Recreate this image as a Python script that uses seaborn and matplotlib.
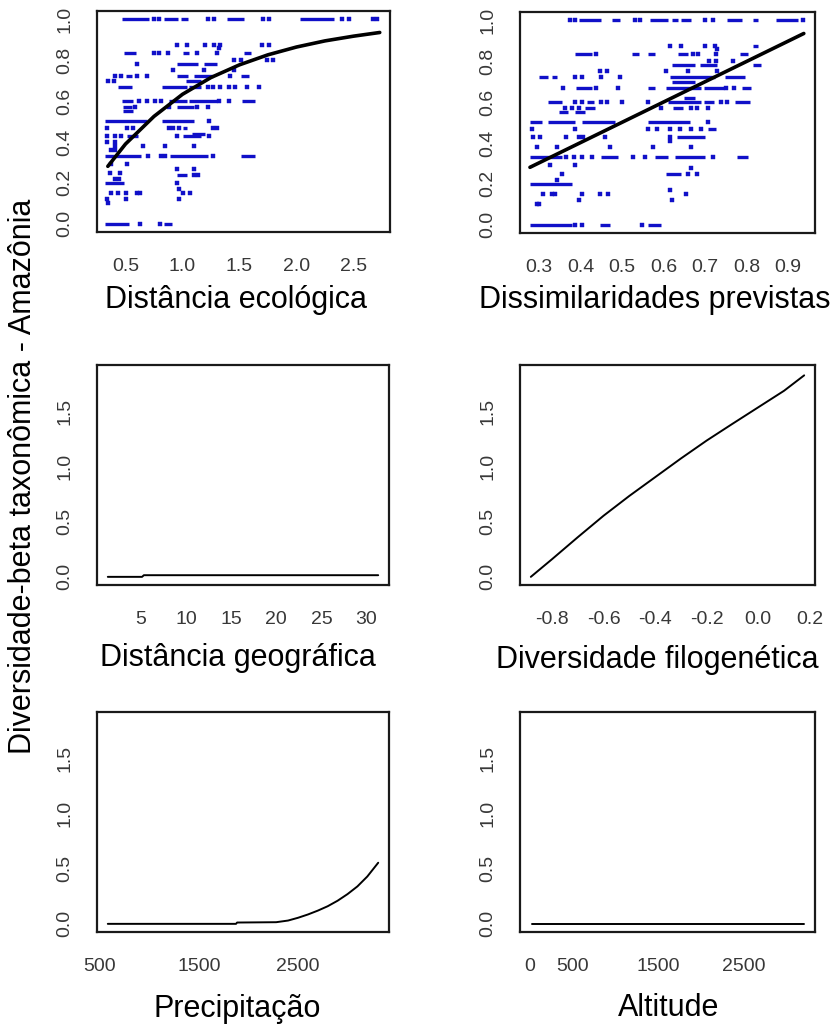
import numpy as np
import pandas as pd
import matplotlib
matplotlib.use("Agg")
import matplotlib.pyplot as plt
import seaborn as sns

# ---------------------------------------------------------------------------
# Observed dissimilarity vs. ecological distance (horizontal runs of points)
# each run: (observed dissimilarity, x start, x end)
eco_runs = [
    (1.0, 0.47, 0.71), (1.0, 0.84, 0.96), (1.0, 0.99, 1.05), (1.0, 1.39, 1.54), (1.0, 2.03, 2.33),
    (0.833, 0.49, 0.59), (0.833, 1.00, 1.06), (0.833, 1.54, 1.60),
    (0.78, 0.95, 1.14), (0.78, 1.19, 1.30),
    (0.72, 0.50, 0.56), (0.72, 0.95, 1.05), (0.72, 1.10, 1.27), (0.72, 1.51, 1.58),
    (0.70, 1.03, 1.16),
    (0.67, 0.43, 0.56), (0.67, 0.82, 1.04), (0.67, 1.06, 1.16),
    (0.60, 0.47, 0.57), (0.60, 0.88, 1.04), (0.60, 1.06, 1.30), (0.60, 1.52, 1.64),
    (0.57, 0.48, 0.56), (0.57, 0.95, 1.10),
    (0.55, 0.48, 0.57),
    (0.50, 0.32, 0.69), (0.50, 0.82, 1.10),
    (0.47, 1.00, 1.04),
    (0.44, 1.08, 1.20),
    (0.43, 0.51, 0.61), (0.43, 1.00, 1.16),
    (0.333, 0.32, 0.64), (0.333, 0.89, 1.22), (0.333, 1.51, 1.64),
    (0.24, 0.95, 1.04),
    (0.20, 0.32, 0.49),
    (0.0, 0.32, 0.53), (0.0, 0.84, 0.91),
]
# isolated points: (ecological distance, observed dissimilarity)
eco_dots = [
    (0.75, 1.0), (0.79, 1.0), (1.22, 1.0), (1.28, 1.0), (1.71, 1.0), (1.76, 1.0),
    (2.40, 1.0), (2.46, 1.0), (2.67, 1.0), (2.71, 1.0),
    (0.95, 0.875), (1.04, 0.875), (1.20, 0.875), (1.28, 0.875), (1.33, 0.875), (1.70, 0.875), (1.76, 0.875),
    (1.32, 0.86),
    (0.75, 0.833), (0.79, 0.833), (0.87, 0.833), (1.13, 0.833), (1.30, 0.833),
    (1.45, 0.80), (1.51, 0.80), (1.74, 0.80), (1.79, 0.80),
    (0.60, 0.78),
    (0.92, 0.75), (1.19, 0.75), (1.45, 0.75),
    (0.41, 0.72), (0.46, 0.72), (0.60, 0.72), (0.69, 0.72), (1.42, 0.72),
    (0.35, 0.70), (0.40, 0.70),
    (1.22, 0.67), (1.27, 0.67), (1.33, 0.67), (1.41, 0.67), (1.46, 0.67), (1.57, 0.67), (1.67, 0.67),
    (0.62, 0.60), (0.69, 0.60), (0.76, 0.60), (0.81, 0.60), (1.32, 0.60), (1.41, 0.60),
    (0.58, 0.57), (0.88, 0.57), (1.13, 0.57), (1.22, 0.57),
    (1.23, 0.50),
    (0.34, 0.47), (0.51, 0.47), (0.57, 0.47), (0.88, 0.47), (0.92, 0.47), (0.97, 0.47), (1.27, 0.47), (1.30, 0.47),
    (0.34, 0.43), (0.41, 0.43), (0.46, 0.43), (0.95, 0.43), (1.23, 0.43),
    (0.34, 0.40), (0.41, 0.40),
    (0.41, 0.38), (0.65, 0.38), (0.85, 0.38), (1.10, 0.38),
    (0.37, 0.36), (0.41, 0.36),
    (0.70, 0.333), (0.81, 0.333), (0.85, 0.333), (1.27, 0.333),
    (0.37, 0.29), (0.51, 0.29),
    (0.95, 0.27), (1.10, 0.27),
    (0.36, 0.25), (0.45, 0.25),
    (1.10, 0.24), (1.14, 0.24),
    (0.41, 0.22), (0.44, 0.22),
    (0.95, 0.20), (0.97, 0.17),
    (0.37, 0.15), (0.43, 0.15), (0.50, 0.15), (0.60, 0.15), (0.63, 0.15), (1.00, 0.15), (1.07, 0.15),
    (0.34, 0.12), (0.50, 0.12), (0.97, 0.12),
    (0.35, 0.10),
    (0.63, 0.0), (0.80, 0.0),
]
# fitted curve
eco_curve_x = [0.345, 0.5, 0.75, 1.0, 1.25, 1.5, 1.75, 2.0, 2.25, 2.5, 2.73]
eco_curve_y = [0.281, 0.39, 0.525, 0.633, 0.715, 0.777, 0.826, 0.864, 0.894, 0.917, 0.935]

# ---------------------------------------------------------------------------
# Observed vs. predicted dissimilarity
pred_runs = [
    (1.0, 0.395, 0.45), (1.0, 0.475, 0.495), (1.0, 0.567, 0.61), (1.0, 0.62, 0.635), (1.0, 0.643, 0.667),
    (1.0, 0.752, 0.788), (1.0, 0.816, 0.828), (1.0, 0.872, 0.925),
    (0.875, 0.816, 0.828),
    (0.833, 0.387, 0.427), (0.833, 0.523, 0.54), (0.833, 0.563, 0.58), (0.833, 0.635, 0.66), (0.833, 0.784, 0.804),
    (0.78, 0.62, 0.675), (0.78, 0.687, 0.73), (0.78, 0.816, 0.836),
    (0.72, 0.30, 0.322), (0.72, 0.33, 0.343), (0.72, 0.615, 0.724), (0.72, 0.748, 0.796),
    (0.70, 0.62, 0.675),
    (0.67, 0.39, 0.427), (0.67, 0.563, 0.58), (0.67, 0.607, 0.69), (0.67, 0.698, 0.746), (0.67, 0.79, 0.81),
    (0.62, 0.65, 0.675),
    (0.60, 0.322, 0.355), (0.60, 0.416, 0.432), (0.60, 0.61, 0.69), (0.60, 0.698, 0.722), (0.60, 0.772, 0.808),
    (0.57, 0.411, 0.435), (0.57, 0.623, 0.647),
    (0.55, 0.347, 0.37), (0.55, 0.387, 0.41),
    (0.50, 0.278, 0.306), (0.50, 0.322, 0.387), (0.50, 0.403, 0.483), (0.50, 0.563, 0.663),
    (0.47, 0.707, 0.727),
    (0.43, 0.632, 0.70),
    (0.333, 0.278, 0.355), (0.333, 0.45, 0.49), (0.333, 0.58, 0.61), (0.333, 0.627, 0.70), (0.333, 0.776, 0.804),
    (0.25, 0.607, 0.643),
    (0.20, 0.278, 0.379),
    (0.0, 0.278, 0.379), (0.0, 0.447, 0.471), (0.0, 0.563, 0.595),
]
pred_dots = [
    (0.375, 1.0), (0.387, 1.0), (0.53, 1.0), (0.543, 1.0), (0.70, 1.0), (0.72, 1.0), (0.935, 1.0),
    (0.615, 0.875), (0.643, 0.875), (0.70, 0.875), (0.725, 0.875),
    (0.73, 0.86),
    (0.437, 0.833), (0.67, 0.833), (0.683, 0.833), (0.727, 0.833),
    (0.71, 0.80), (0.727, 0.80), (0.768, 0.80),
    (0.447, 0.75), (0.463, 0.75), (0.607, 0.75), (0.66, 0.75), (0.73, 0.75),
    (0.387, 0.72), (0.403, 0.72), (0.45, 0.72), (0.495, 0.72),
    (0.357, 0.67), (0.437, 0.67), (0.49, 0.67), (0.75, 0.67), (0.77, 0.67),
    (0.387, 0.60), (0.403, 0.60), (0.45, 0.60), (0.463, 0.60), (0.50, 0.60), (0.563, 0.60), (0.738, 0.60), (0.754, 0.60),
    (0.363, 0.57), (0.379, 0.57), (0.395, 0.57), (0.595, 0.57), (0.667, 0.57), (0.68, 0.57), (0.707, 0.57),
    (0.707, 0.50),
    (0.282, 0.47), (0.387, 0.47), (0.563, 0.47), (0.583, 0.47), (0.615, 0.47), (0.64, 0.47), (0.667, 0.47), (0.69, 0.47),
    (0.286, 0.43), (0.302, 0.43), (0.366, 0.43), (0.395, 0.43), (0.407, 0.43), (0.459, 0.43), (0.615, 0.43),
    (0.615, 0.41),
    (0.294, 0.38), (0.342, 0.38), (0.47, 0.38), (0.575, 0.38), (0.667, 0.38),
    (0.366, 0.333), (0.383, 0.333), (0.403, 0.333), (0.427, 0.333), (0.527, 0.333), (0.555, 0.333), (0.72, 0.333),
    (0.326, 0.29), (0.387, 0.29),
    (0.667, 0.28),
    (0.355, 0.25), (0.66, 0.25), (0.68, 0.25),
    (0.342, 0.22),
    (0.615, 0.17),
    (0.31, 0.15), (0.33, 0.15), (0.338, 0.15), (0.403, 0.15), (0.447, 0.15), (0.467, 0.15), (0.655, 0.15),
    (0.395, 0.12), (0.62, 0.12),
    (0.296, 0.10), (0.30, 0.10),
    (0.387, 0.0), (0.403, 0.0), (0.547, 0.0),
]
pred_curve_x = [0.278, 0.938]
pred_curve_y = [0.281, 0.935]

# ---------------------------------------------------------------------------
# Partial response curves
geo_x = [1.3, 5.1, 5.3, 31.3]
geo_y = [0.0, 0.0, 0.015, 0.015]

phylo_x = [-0.882, -0.8, -0.7, -0.6, -0.5, -0.4, -0.3, -0.2, -0.1, 0.0, 0.1, 0.178]
phylo_y = [0.0, 0.16, 0.36, 0.555, 0.735, 0.905, 1.075, 1.238, 1.39, 1.54, 1.69, 1.83]

precip_x = [580, 1875, 1885, 2280, 2400, 2500, 2600, 2700, 2800, 2900, 3000, 3100, 3200, 3310]
precip_y = [0.0, 0.0, 0.012, 0.015, 0.03, 0.055, 0.085, 0.12, 0.16, 0.21, 0.27, 0.34, 0.43, 0.555]

alt_x = [20, 3200]
alt_y = [0.0, 0.0]

x_titles = ["Distância ecológica", "Dissimilaridades previstas",
            "Distância geográfica", "Diversidade filogenética",
            "Precipitação", "Altitude"]
y_title = "Diversidade-beta taxonômica - Amazônia"

# ---------------------------------------------------------------------------
sns.set_style("white")
plt.rcParams["font.family"] = ["Liberation Sans", "DejaVu Sans"]

W, H = 835, 1028
fig = plt.figure(figsize=(W / 100, H / 100), dpi=100)

def box(left, top, width, height):
    return fig.add_axes([left / W, 1 - (top + height) / H, width / W, height / H])

axes = [
    box(97, 11, 293, 221), box(520, 12, 295, 221),
    box(97, 365, 292, 220), box(520, 365, 295, 220),
    box(97, 712, 292, 220), box(520, 712, 295, 220),
]

POINT = "#1010c8"
TICKTXT = "#383838"

def style(ax, xlim, ylim, xticks, xlabels, yticks, ylabels):
    ax.set_xlim(*xlim)
    ax.set_ylim(*ylim)
    ax.set_xticks(xticks)
    ax.set_xticklabels(xlabels)
    ax.set_yticks(yticks)
    ax.set_yticklabels(ylabels, rotation=90, va="center")
    for s in ax.spines.values():
        s.set_visible(True)
        s.set_color("#1a1a1a")
        s.set_linewidth(1.6)
    ax.tick_params(axis="both", direction="out", length=7, width=1.6,
                   color="#1a1a1a", labelsize=14, labelcolor=TICKTXT)
    ax.tick_params(axis="x", pad=12)
    ax.tick_params(axis="y", pad=10)
    ax.set_xlabel("")
    ax.set_ylabel("")
    if ax.get_legend():
        ax.get_legend().remove()

def draw_scatter(ax, runs, dots, cx, cy):
    r = pd.DataFrame(runs, columns=["y", "x0", "x1"])
    ax.hlines(r["y"], r["x0"], r["x1"], colors=POINT, linewidth=2.4)
    d = pd.DataFrame(dots, columns=["x", "y"])
    sns.scatterplot(data=d, x="x", y="y", ax=ax, marker="s", s=8,
                    color=POINT, edgecolor=POINT, linewidth=0.3)
    c = pd.DataFrame({"x": cx, "y": cy})
    sns.lineplot(data=c, x="x", y="y", ax=ax, color="black", linewidth=2.6,
                 sort=False, estimator=None)

def draw_curve(ax, x, y):
    c = pd.DataFrame({"x": x, "y": y})
    sns.lineplot(data=c, x="x", y="y", ax=ax, color="black", linewidth=1.4,
                 sort=False, estimator=None)

y01 = [0.0, 0.2, 0.4, 0.6, 0.8, 1.0]
y01_lab = ["0.0", "0.2", "0.4", "0.6", "0.8", "1.0"]
y15 = [0.0, 0.5, 1.0, 1.5]
y15_lab = ["0.0", "0.5", "1.0", "1.5"]
ylim_top = (-0.04, 1.04)
ylim_low = (-0.074, 1.924)

draw_scatter(axes[0], eco_runs, eco_dots, eco_curve_x, eco_curve_y)
style(axes[0], (0.25, 2.82), ylim_top,
      [0.5, 1.0, 1.5, 2.0, 2.5], ["0.5", "1.0", "1.5", "2.0", "2.5"], y01, y01_lab)

draw_scatter(axes[1], pred_runs, pred_dots, pred_curve_x, pred_curve_y)
style(axes[1], (0.254, 0.965), ylim_top,
      [0.3, 0.4, 0.5, 0.6, 0.7, 0.8, 0.9],
      ["0.3", "0.4", "0.5", "0.6", "0.7", "0.8", "0.9"], y01, y01_lab)

draw_curve(axes[2], geo_x, geo_y)
style(axes[2], (0.1, 32.5), ylim_low,
      [5, 10, 15, 20, 25, 30], ["5", "10", "15", "20", "25", "30"], y15, y15_lab)

draw_curve(axes[3], phylo_x, phylo_y)
style(axes[3], (-0.924, 0.22), ylim_low,
      [-0.8, -0.6, -0.4, -0.2, 0.0, 0.2],
      ["-0.8", "-0.6", "-0.4", "-0.2", "0.0", "0.2"], y15, y15_lab)

draw_curve(axes[4], precip_x, precip_y)
style(axes[4], (471, 3419), ylim_low,
      [500, 1000, 1500, 2000, 2500, 3000],
      ["500", "", "1500", "", "2500", ""], y15, y15_lab)

draw_curve(axes[5], alt_x, alt_y)
style(axes[5], (-118, 3328), ylim_low,
      [0, 500, 1000, 1500, 2000, 2500, 3000],
      ["0", "500", "", "1500", "", "2500", ""], y15, y15_lab)

# axis titles placed under each panel
title_pos = [(236, 300), (655, 300), (238, 658), (657, 660), (237, 1009), (669, 1008)]
for (px, py), t in zip(title_pos, x_titles):
    fig.text(px / W, 1 - py / H, t, ha="center", va="center", fontsize=22, color="black")

fig.text(23 / W, 1 - 476 / H, y_title, rotation=90, ha="center", va="center",
         fontsize=22, color="black")

fig.savefig("out.png", dpi=100, facecolor="white")
